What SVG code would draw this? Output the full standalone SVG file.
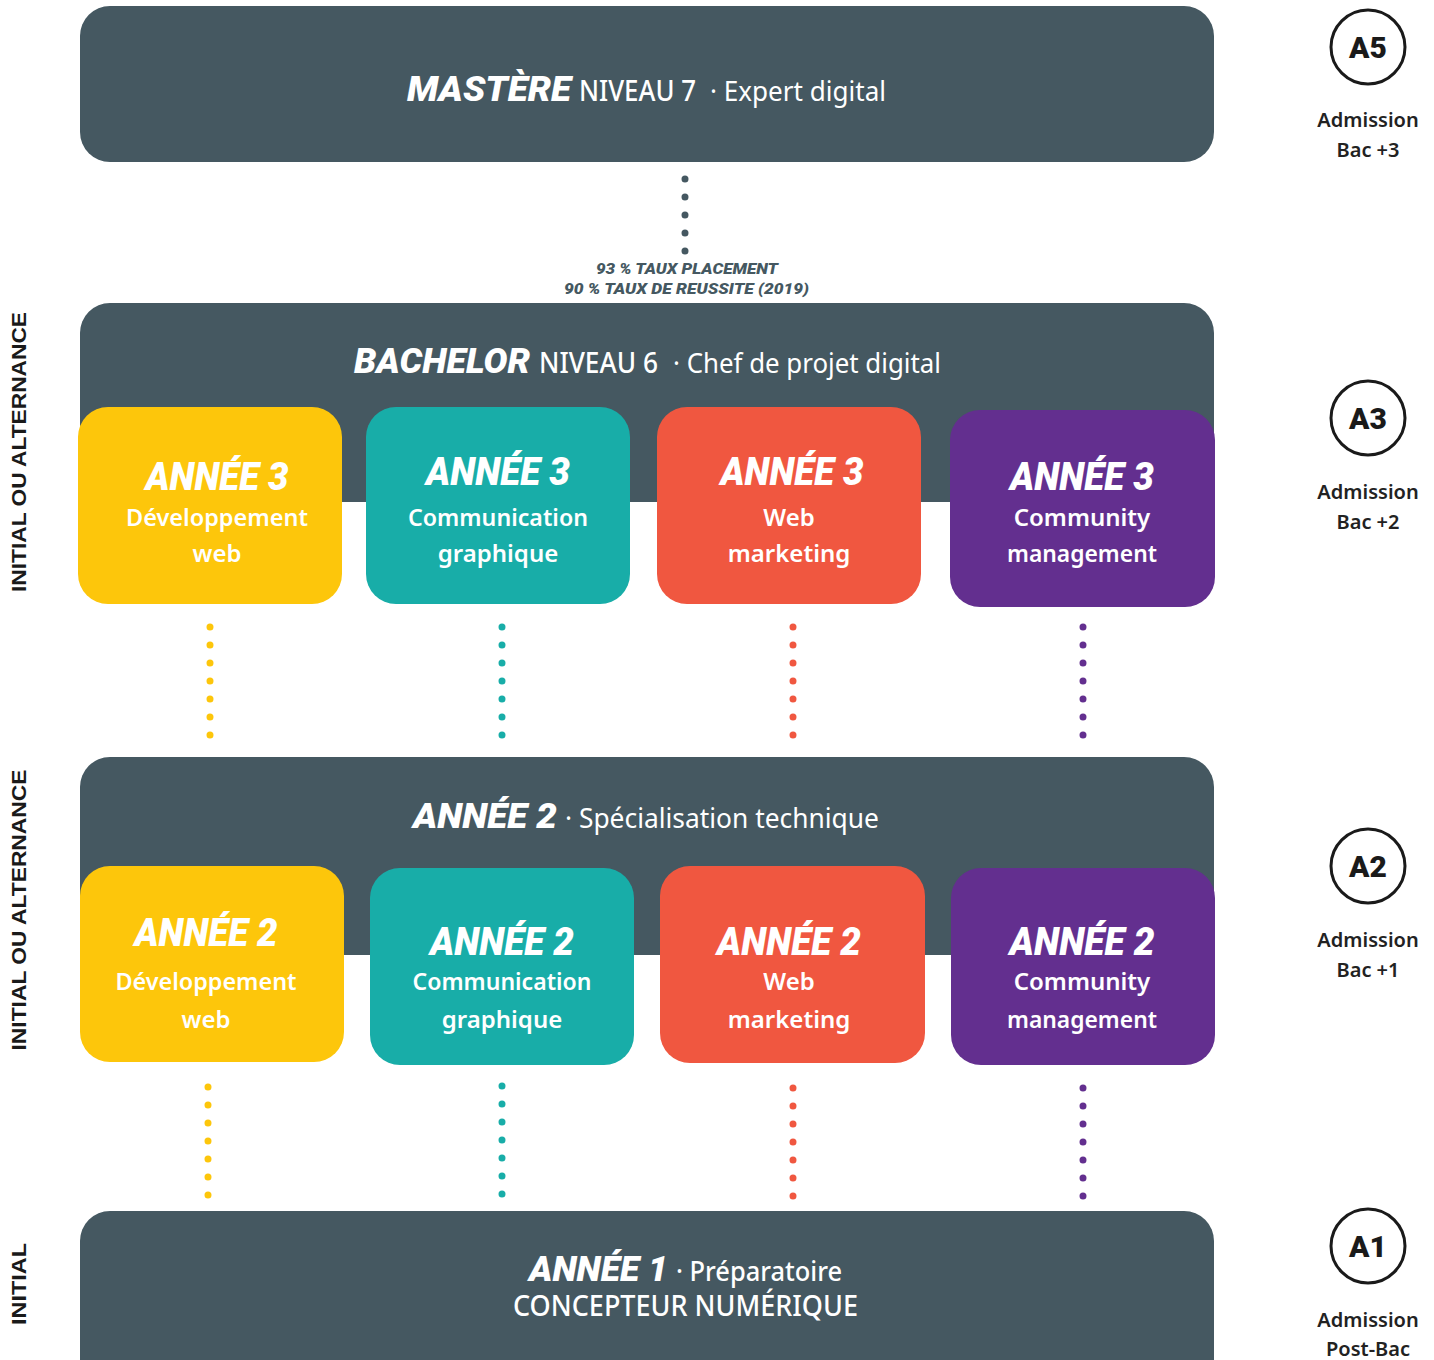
<svg xmlns="http://www.w3.org/2000/svg" width="1434" height="1360" viewBox="0 0 1434 1360">
<style>
.bg{fill:#455861}
.y{fill:#FDC60B}.t{fill:#18ADA8}.r{fill:#F05740}.p{fill:#632F8F}
.hd{font-family:Roboto,"Noto Sans",sans-serif;font-weight:900;font-style:italic;fill:#fff}
.sub{font-family:"Noto Sans","Open Sans",sans-serif;font-weight:500;fill:#fff}
.ban{font-family:"Noto Sans","Open Sans",sans-serif;fill:#fff;font-size:28px}
.crd{font-family:"Noto Sans","Open Sans",sans-serif;font-weight:600;fill:#fff;font-size:24px;text-anchor:middle}
.ch{font-family:Roboto,"Noto Sans",sans-serif;font-weight:900;font-style:italic;fill:#fff;font-size:38px;text-anchor:middle}
.side{font-family:"Liberation Sans",Arial,sans-serif;font-weight:bold;font-size:20px;fill:#1a1a1a;text-anchor:middle}
.circ{fill:none;stroke:#1a1a1a;stroke-width:3}
.cl{font-family:Roboto,"Liberation Sans",sans-serif;font-weight:900;font-size:30px;fill:#1a1a1a;text-anchor:middle}
.adm{font-family:"Noto Sans","Open Sans",sans-serif;font-weight:600;font-size:20px;fill:#222;text-anchor:middle}
.stat{font-family:Roboto,"Liberation Sans",sans-serif;font-weight:900;font-style:italic;font-size:15px;fill:#455861;text-anchor:middle}
.dots{fill:none;stroke-width:7;stroke-linecap:round;stroke-dasharray:0 18}
</style>

<g id="side-labels">
<text class="side" transform="translate(26,452) rotate(-90)" textLength="280" lengthAdjust="spacingAndGlyphs">INITIAL OU ALTERNANCE</text>
<text class="side" transform="translate(26,910) rotate(-90)" textLength="281" lengthAdjust="spacingAndGlyphs">INITIAL OU ALTERNANCE</text>
<text class="side" transform="translate(26,1284) rotate(-90)" textLength="82" lengthAdjust="spacingAndGlyphs">INITIAL</text>
</g>

<g id="connectors">
<line class="dots" stroke="#455861" x1="685" y1="179" x2="685" y2="253"/>
<line class="dots" stroke="#FDC60B" x1="210" y1="627" x2="210" y2="737"/>
<line class="dots" stroke="#18ADA8" x1="502" y1="627" x2="502" y2="737"/>
<line class="dots" stroke="#F05740" x1="793" y1="627" x2="793" y2="737"/>
<line class="dots" stroke="#632F8F" x1="1083" y1="627" x2="1083" y2="737"/>
<line class="dots" stroke="#FDC60B" x1="208" y1="1087" x2="208" y2="1197"/>
<line class="dots" stroke="#18ADA8" x1="502" y1="1086" x2="502" y2="1196"/>
<line class="dots" stroke="#F05740" x1="793" y1="1088" x2="793" y2="1198"/>
<line class="dots" stroke="#632F8F" x1="1083" y1="1088" x2="1083" y2="1198"/>
</g>

<g id="mastere">
<rect class="bg" x="80" y="6" width="1134" height="156" rx="30"/>
<text x="407" y="101"><tspan class="hd" font-size="35" textLength="164" lengthAdjust="spacingAndGlyphs">MASTÈRE</tspan><tspan class="sub" font-size="28" x="579" textLength="117" lengthAdjust="spacingAndGlyphs">NIVEAU 7</tspan><tspan class="ban" x="710" textLength="176" lengthAdjust="spacingAndGlyphs">· Expert digital</tspan></text>
</g>

<g id="stats">
<text class="stat" x="687" y="274" textLength="182" lengthAdjust="spacingAndGlyphs">93 % TAUX PLACEMENT</text>
<text class="stat" x="686.5" y="294" textLength="245" lengthAdjust="spacingAndGlyphs">90 % TAUX DE REUSSITE (2019)</text>
</g>

<g id="bachelor">
<path class="bg" d="M80,502 V333 A30,30 0 0 1 110,303 H1184 A30,30 0 0 1 1214,333 V502 Z"/>
<text x="354" y="373"><tspan class="hd" font-size="35" textLength="176" lengthAdjust="spacingAndGlyphs">BACHELOR</tspan><tspan class="sub" font-size="28" x="539" textLength="119" lengthAdjust="spacingAndGlyphs">NIVEAU 6</tspan><tspan class="ban" x="673" textLength="268" lengthAdjust="spacingAndGlyphs">· Chef de projet digital</tspan></text>
</g>

<g id="a3-dev">
<rect class="y" x="78" y="407" width="264" height="197" rx="30"/>
<text class="ch" x="217" y="490" textLength="143" lengthAdjust="spacingAndGlyphs">ANNÉE 3</text>
<text class="crd" x="217" y="526" textLength="182" lengthAdjust="spacingAndGlyphs">Développement</text>
<text class="crd" x="217" y="562">web</text>
</g>
<g id="a3-com">
<rect class="t" x="366" y="407" width="264" height="197" rx="30"/>
<text class="ch" x="498" y="485" textLength="144" lengthAdjust="spacingAndGlyphs">ANNÉE 3</text>
<text class="crd" x="498" y="526" textLength="180" lengthAdjust="spacingAndGlyphs">Communication</text>
<text class="crd" x="498" y="562">graphique</text>
</g>
<g id="a3-web">
<rect class="r" x="657" y="407" width="264" height="197" rx="30"/>
<text class="ch" x="792" y="485" textLength="143" lengthAdjust="spacingAndGlyphs">ANNÉE 3</text>
<text class="crd" x="789" y="526">Web</text>
<text class="crd" x="789" y="562">marketing</text>
</g>
<g id="a3-cm">
<rect class="p" x="950" y="410" width="265" height="197" rx="30"/>
<text class="ch" x="1082" y="490" textLength="144" lengthAdjust="spacingAndGlyphs">ANNÉE 3</text>
<text class="crd" x="1082" y="526">Community</text>
<text class="crd" x="1082" y="562" textLength="150" lengthAdjust="spacingAndGlyphs">management</text>
</g>

<g id="annee2">
<path class="bg" d="M80,955 V787 A30,30 0 0 1 110,757 H1184 A30,30 0 0 1 1214,787 V955 Z"/>
<text x="413" y="828"><tspan class="hd" font-size="35" textLength="144" lengthAdjust="spacingAndGlyphs">ANNÉE 2</tspan><tspan class="ban" x="565" textLength="314" lengthAdjust="spacingAndGlyphs">· Spécialisation technique</tspan></text>
</g>

<g id="a2-dev">
<rect class="y" x="80" y="866" width="264" height="196" rx="30"/>
<text class="ch" x="206" y="946" textLength="143" lengthAdjust="spacingAndGlyphs">ANNÉE 2</text>
<text class="crd" x="206" y="990" textLength="181" lengthAdjust="spacingAndGlyphs">Développement</text>
<text class="crd" x="206" y="1028">web</text>
</g>
<g id="a2-com">
<rect class="t" x="370" y="868" width="264" height="197" rx="30"/>
<text class="ch" x="502" y="955" textLength="144" lengthAdjust="spacingAndGlyphs">ANNÉE 2</text>
<text class="crd" x="502" y="990" textLength="179" lengthAdjust="spacingAndGlyphs">Communication</text>
<text class="crd" x="502" y="1028">graphique</text>
</g>
<g id="a2-web">
<rect class="r" x="660" y="866" width="265" height="197" rx="30"/>
<text class="ch" x="789" y="955" textLength="144" lengthAdjust="spacingAndGlyphs">ANNÉE 2</text>
<text class="crd" x="789" y="990">Web</text>
<text class="crd" x="789" y="1028">marketing</text>
</g>
<g id="a2-cm">
<rect class="p" x="951" y="868" width="264" height="197" rx="30"/>
<text class="ch" x="1082" y="955" textLength="145" lengthAdjust="spacingAndGlyphs">ANNÉE 2</text>
<text class="crd" x="1082" y="990">Community</text>
<text class="crd" x="1082" y="1028" textLength="150" lengthAdjust="spacingAndGlyphs">management</text>
</g>

<g id="annee1">
<rect class="bg" x="80" y="1211" width="1134" height="200" rx="30"/>
<text x="529" y="1281"><tspan class="hd" font-size="35" textLength="139" lengthAdjust="spacingAndGlyphs">ANNÉE 1</tspan><tspan class="sub" font-size="27" x="676" textLength="166" lengthAdjust="spacingAndGlyphs">· Préparatoire</tspan></text>
<text class="sub" font-size="28" x="685.5" y="1316" text-anchor="middle" textLength="345" lengthAdjust="spacingAndGlyphs">CONCEPTEUR NUMÉRIQUE</text>
</g>

<g id="badge-a5">
<circle class="circ" cx="1368" cy="47" r="37"/>
<text class="cl" x="1368" y="58">A5</text>
<text class="adm" x="1368" y="127">Admission</text>
<text class="adm" x="1368" y="157">Bac +3</text>
</g>
<g id="badge-a3">
<circle class="circ" cx="1368" cy="418" r="37"/>
<text class="cl" x="1368" y="429">A3</text>
<text class="adm" x="1368" y="499">Admission</text>
<text class="adm" x="1368" y="529">Bac +2</text>
</g>
<g id="badge-a2">
<circle class="circ" cx="1368" cy="866" r="37"/>
<text class="cl" x="1368" y="877">A2</text>
<text class="adm" x="1368" y="947">Admission</text>
<text class="adm" x="1368" y="977">Bac +1</text>
</g>
<g id="badge-a1">
<circle class="circ" cx="1368" cy="1246" r="37"/>
<text class="cl" x="1368" y="1257">A1</text>
<text class="adm" x="1368" y="1327">Admission</text>
<text class="adm" x="1368" y="1356">Post-Bac</text>
</g>
</svg>
